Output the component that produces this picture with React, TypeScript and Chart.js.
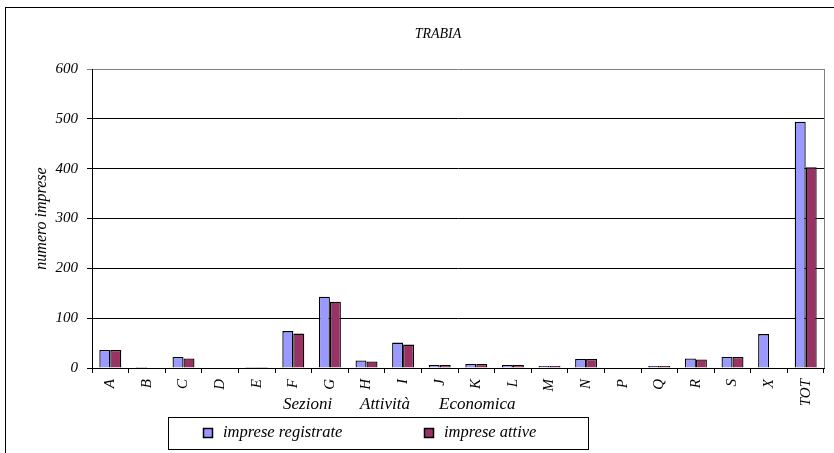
import React, { useEffect, useRef } from "react";
import { Chart, registerables } from "chart.js";

Chart.register(...registerables);

const categories = ["A", "B", "C", "D", "E", "F", "G", "H", "I", "J", "K", "L", "M", "N", "P", "Q", "R", "S", "X", "TOT"];
const registrate = [36, 2, 22, 0, 2, 74, 143, 15, 51, 6, 8, 6, 4, 18, 0, 4, 19, 22, 68, 494];
const attive = [36, 1, 19, 0, 2, 69, 133, 13, 47, 6, 8, 6, 4, 18, 0, 4, 17, 22, 0, 403];
const yTicks = [0, 100, 200, 300, 400, 500, 600];
const chartTitle = "TRABIA";
const xTitleWords = ["Sezioni", "Attività", "Economica"];
const yTitle = "numero imprese";
const seriesNames = ["imprese registrate", "imprese attive"];
const seriesColors = ["#9999FF", "#993366"];

const FONT = "'Liberation Serif', 'Times New Roman', serif";

const decorPlugin = {
  id: "decor",
  afterDraw(chart: any) {
    const ctx = chart.ctx;
    const area = chart.chartArea;
    ctx.save();
    // outer frame
    ctx.strokeStyle = "#000";
    ctx.lineWidth = 1;
    ctx.strokeRect(5.5, 7.5, 900, 500);
    // right border of plot
    ctx.strokeStyle = "#808080";
    ctx.beginPath();
    ctx.moveTo(Math.round(area.right) + 0.5, area.top);
    ctx.lineTo(Math.round(area.right) + 0.5, area.bottom);
    ctx.stroke();
    // title
    ctx.fillStyle = "#000";
    ctx.font = `italic 14px ${FONT}`;
    ctx.textAlign = "center";
    ctx.textBaseline = "middle";
    ctx.fillText(chartTitle, 438, 34);
    // x-axis title words
    ctx.font = `italic 17px ${FONT}`;
    ctx.textAlign = "left";
    const xs = [283, 360, 439];
    xTitleWords.forEach((w, i) => ctx.fillText(w, xs[i], 405));
    // legend
    ctx.strokeStyle = "#000";
    ctx.strokeRect(168.5, 417.5, 420, 32);
    ctx.font = `italic 16.5px ${FONT}`;
    const lx = [203, 424];
    chart.data.datasets.forEach((ds: any, i: number) => {
      ctx.fillStyle = ds.backgroundColor;
      ctx.fillRect(lx[i], 428, 9, 9);
      ctx.strokeStyle = "#000";
      ctx.lineWidth = 1.5;
      ctx.strokeRect(lx[i] + 0.5, 428.5, 9, 9);
      ctx.fillStyle = "#000";
      ctx.fillText(ds.label, lx[i] + 20, 433);
    });
    ctx.restore();
  },
};

export default function App() {
  const ref = useRef<HTMLCanvasElement>(null);
  useEffect(() => {
    if (!ref.current) return;
    const chart = new Chart(ref.current, {
      type: "bar",
      data: {
        labels: categories,
        datasets: [
          {
            label: seriesNames[0],
            data: registrate,
            backgroundColor: seriesColors[0],
            borderColor: "#000",
            borderWidth: 1.3,
            categoryPercentage: 0.6,
            barPercentage: 1,
          },
          {
            label: seriesNames[1],
            data: attive,
            backgroundColor: seriesColors[1],
            borderColor: "#000",
            borderWidth: 1.3,
            categoryPercentage: 0.6,
            barPercentage: 1,
          },
        ],
      },
      options: {
        animation: false,
        responsive: false,
        maintainAspectRatio: false,
        layout: { padding: { top: 69, right: 10, left: 0, bottom: 0 } },
        plugins: {
          legend: { display: false },
          title: { display: false },
          tooltip: { enabled: false },
        },
        scales: {
          x: {
            grid: {
              offset: true,
              drawOnChartArea: false,
              drawTicks: true,
              tickLength: 5,
              color: "#000",
            },
            border: { display: true, color: "#000", width: 1 },
            ticks: {
              maxRotation: 90,
              minRotation: 90,
              padding: 6,
              color: "#000",
              font: { family: FONT, style: "italic", size: 15 },
            },
            afterFit: (s: any) => {
              s.height = 85;
            },
          },
          y: {
            min: 0,
            max: 600,
            afterBuildTicks: (s: any) => {
              s.ticks = yTicks.map((v) => ({ value: v }));
            },
            grid: {
              color: (c: any) => (c.tick && c.tick.value === 600 ? "#808080" : "#000"),
              tickLength: 5,
              drawTicks: true,
            },
            border: { display: true, color: "#000", width: 1 },
            ticks: {
              padding: 9,
              color: "#000",
              font: { family: FONT, style: "italic", size: 15 },
            },
            title: {
              display: true,
              text: yTitle,
              color: "#000",
              font: { family: FONT, style: "italic", size: 16 },
              padding: { top: 32, bottom: 0 },
            },
            afterFit: (s: any) => {
              s.width = 92;
            },
          },
        },
      },
      plugins: [decorPlugin],
    });
    return () => chart.destroy();
  }, []);
  return (
    <div style={{ position: "fixed", left: 0, top: 0, width: 834, height: 453, background: "#fff" }}>
      <canvas ref={ref} width={834} height={453} style={{ width: 834, height: 453 }} />
    </div>
  );
}
